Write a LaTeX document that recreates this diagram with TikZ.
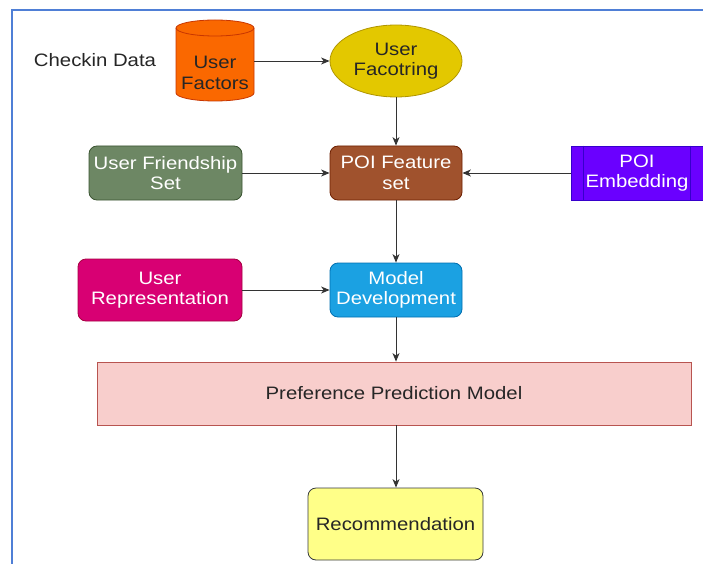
\documentclass[tikz,border=0pt]{standalone}
\usepackage{fontspec}
\setmainfont{Liberation Sans}[FakeStretch=1.13]
\usetikzlibrary{arrows.meta,shapes.geometric}
\definecolor{frameblue}{HTML}{4F7FD6}
\definecolor{cylfill}{HTML}{FA6800}
\definecolor{cylline}{HTML}{C73500}
\definecolor{ellfill}{HTML}{E3C800}
\definecolor{ellline}{HTML}{B09500}
\definecolor{brownfill}{HTML}{A0522D}
\definecolor{brownline}{HTML}{6D1F00}
\definecolor{greenfill}{HTML}{6D8764}
\definecolor{greenline}{HTML}{3A5431}
\definecolor{violetfill}{HTML}{6A00FF}
\definecolor{violetline}{HTML}{3700CC}
\definecolor{bluefill}{HTML}{1BA1E2}
\definecolor{blueline}{HTML}{006EAF}
\definecolor{magfill}{HTML}{D80073}
\definecolor{magline}{HTML}{A50040}
\definecolor{pinkfill}{HTML}{F8CECC}
\definecolor{pinkline}{HTML}{B85450}
\definecolor{yelfill}{HTML}{FFFF88}
\definecolor{yelline}{HTML}{36393D}
\definecolor{arrowgray}{HTML}{333333}
\tikzset{
  lbl/.style={font=\fontsize{18}{20.5}\selectfont, align=center, inner sep=0pt},
  box/.style={lbl, rounded corners=8pt, line width=0.8pt, anchor=center},
  conn/.style={draw=arrowgray, line width=0.9pt, -{Stealth[length=8.5pt,width=7pt,inset=2.5pt]}},
}
\begin{document}
\begin{tikzpicture}[x=1pt,y=-1pt]
\useasboundingbox (0,0) rectangle (703,564);
% frame
\draw[frameblue, line width=1.6pt] (12,570) -- (12,10) -- (710,10);

% Checkin Data
\node[lbl, text=black!85] (checkin) at (95,60) {Checkin Data};

% cylinder
\fill[cylfill] (176,28) -- (176,93) arc[start angle=180,end angle=360,x radius=39pt,y radius=8pt] -- (254,28) arc[start angle=0,end angle=180,x radius=39pt,y radius=8pt] -- cycle;
\draw[cylline, line width=0.8pt] (176,28) -- (176,93) arc[start angle=180,end angle=360,x radius=39pt,y radius=8pt] -- (254,28) arc[start angle=0,end angle=180,x radius=39pt,y radius=8pt] -- cycle;
\draw[cylline, line width=0.8pt] (176,28) arc[start angle=180,end angle=360,x radius=39pt,y radius=8pt];
\node[lbl, text=black!85, minimum width=78pt, minimum height=60pt] (uf) at (215,73) {User\\Factors};

% ellipse
\node[lbl, ellipse, fill=ellfill, draw=ellline, line width=0.8pt, minimum width=132pt, minimum height=72pt, text=black!85] (ufac) at (396,61) {User\\Facotring};

% row 2
\node[box, fill=brownfill, draw=brownline, text=white, minimum width=132pt, minimum height=54pt] (poi) at (396,173) {POI Feature\\set};
\node[box, fill=greenfill, draw=greenline, text=white, minimum width=153pt, minimum height=54pt] (fr) at (165.5,173) {User Friendship\\Set};
\node[lbl, fill=violetfill, draw=violetline, line width=0.8pt, text=white, minimum width=132pt, minimum height=54pt] (emb) at (637,173) {POI\\Embedding};
\draw[violetline, line width=0.8pt] ([xshift=13pt]emb.north west) -- ([xshift=13pt]emb.south west);
\draw[violetline, line width=0.8pt] ([xshift=-13pt]emb.north east) -- ([xshift=-13pt]emb.south east);

% row 3
\node[box, fill=bluefill, draw=blueline, text=white, minimum width=132pt, minimum height=54pt] (md) at (396,290) {Model\\Development};
\node[box, fill=magfill, draw=magline, text=white, minimum width=164pt, minimum height=62pt] (ur) at (160,290) {User\\Representation};

% preference
\node[lbl, fill=pinkfill, draw=pinkline, line width=0.8pt, text=black!85, minimum width=594pt, minimum height=63pt] (pp) at (394,393.5) {Preference Prediction Model};

% recommendation
\node[box, fill=yelfill, draw=yelline, text=black!85, minimum width=175pt, minimum height=72pt] (rec) at (395.5,524) {Recommendation};

% connectors
\draw[conn] (uf.east |- ufac.west) -- (ufac.west);
\draw[conn] (ufac.south) -- (poi.north);
\draw[conn] (fr.east) -- (poi.west);
\draw[conn] (emb.west) -- (poi.east);
\draw[conn] (poi.south) -- (md.north);
\draw[conn] (ur.east) -- (md.west);
\draw[conn] (md.south) -- (md.south |- pp.north);
\draw[conn] (md.south |- pp.south) -- (md.south |- rec.north);
\end{tikzpicture}
\end{document}
